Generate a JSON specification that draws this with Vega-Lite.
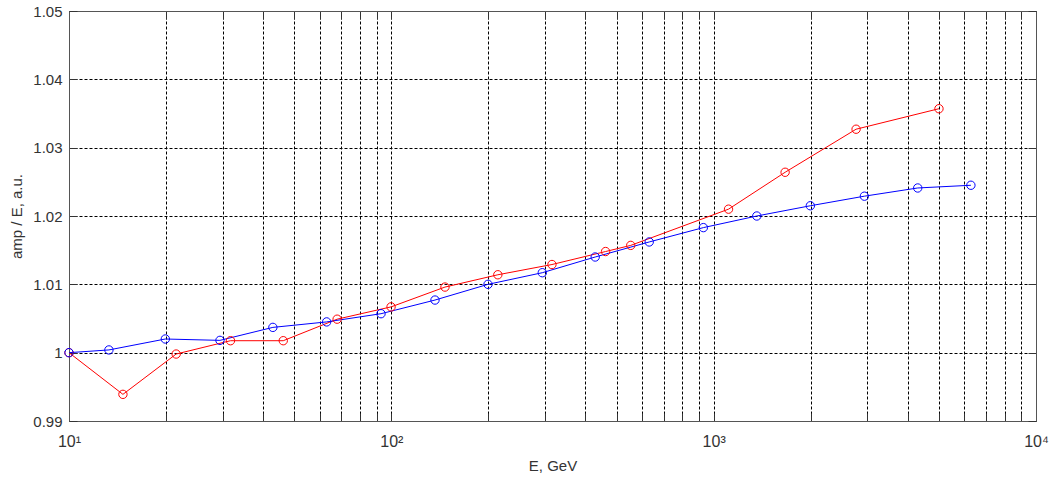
{
  "$schema": "https://vega.github.io/schema/vega-lite/v6.json",
  "width": 967,
  "height": 410,
  "autosize": "none",
  "padding": {"left": 69, "top": 11, "right": 19, "bottom": 60},
  "background": "white",
  "config": {
    "view": {"stroke": "#555555", "strokeWidth": 1},
    "font": "Liberation Sans"
  },
  "data": {
    "values": [
      {"series": "red", "E": 10, "v": 1.0},
      {"series": "red", "E": 14.7, "v": 0.9939},
      {"series": "red", "E": 21.5, "v": 0.9998},
      {"series": "red", "E": 31.7, "v": 1.00175},
      {"series": "red", "E": 46.2, "v": 1.00175},
      {"series": "red", "E": 67.9, "v": 1.0049},
      {"series": "red", "E": 99.8, "v": 1.0067},
      {"series": "red", "E": 146.7, "v": 1.0096},
      {"series": "red", "E": 214, "v": 1.0114},
      {"series": "red", "E": 315, "v": 1.0129},
      {"series": "red", "E": 462, "v": 1.0148},
      {"series": "red", "E": 553, "v": 1.0157},
      {"series": "red", "E": 1112, "v": 1.021},
      {"series": "red", "E": 1666, "v": 1.0264},
      {"series": "red", "E": 2766, "v": 1.0327},
      {"series": "red", "E": 5000, "v": 1.0357},
      {"series": "blue", "E": 10, "v": 1.0},
      {"series": "blue", "E": 13.3, "v": 1.0004},
      {"series": "blue", "E": 19.9, "v": 1.002},
      {"series": "blue", "E": 29.4, "v": 1.0018},
      {"series": "blue", "E": 42.9, "v": 1.0037},
      {"series": "blue", "E": 63.0, "v": 1.0045},
      {"series": "blue", "E": 92.9, "v": 1.0057},
      {"series": "blue", "E": 136.6, "v": 1.0077},
      {"series": "blue", "E": 199.5, "v": 1.01},
      {"series": "blue", "E": 294, "v": 1.0117},
      {"series": "blue", "E": 429, "v": 1.014},
      {"series": "blue", "E": 631, "v": 1.0162},
      {"series": "blue", "E": 929, "v": 1.0183},
      {"series": "blue", "E": 1361, "v": 1.02},
      {"series": "blue", "E": 1995, "v": 1.0215},
      {"series": "blue", "E": 2935, "v": 1.0229},
      {"series": "blue", "E": 4296, "v": 1.0241},
      {"series": "blue", "E": 6281, "v": 1.0245}
    ]
  },
  "resolve": {"axis": {"x": "independent", "y": "independent"}},
  "layer": [
    {
      "mark": {"type": "line", "strokeWidth": 1, "clip": true},
      "encoding": {
        "x": {
          "field": "E", "type": "quantitative",
          "scale": {"type": "log", "domain": [10, 10000], "nice": false},
          "axis": {
            "title": "E, GeV",
            "values": [10,20,30,40,50,60,70,80,90,100,200,300,400,500,600,700,800,900,1000,2000,3000,4000,5000,6000,7000,8000,9000,10000],
            "labelExpr": "datum.value == 10 ? '10¹' : datum.value == 100 ? '10²' : datum.value == 1000 ? '10³' : datum.value == 10000 ? '10⁴' : ''",
            "grid": true, "gridColor": "#000000", "gridDash": [3, 2], "gridOpacity": 1, "gridWidth": 1,
            "tickSize": -8, "tickColor": "#333333",
            "domainColor": "#555555",
            "labelFont": "Liberation Sans", "labelFontSize": 16, "labelColor": "#333333",
            "labelPadding": 20, "labelFlush": false,
            "titleFont": "Liberation Sans", "titleFontSize": 15, "titleFontWeight": "normal", "titleColor": "#333333",
            "titlePadding": 9
          }
        },
        "y": {
          "field": "v", "type": "quantitative",
          "scale": {"domain": [0.99, 1.05], "nice": false, "zero": false},
          "axis": {
            "title": "amp / E, a.u.",
            "values": [0.99, 1.0, 1.01, 1.02, 1.03, 1.04, 1.05],
            "labelExpr": "datum.value == 1 ? '1' : format(datum.value, '.2f')",
            "grid": true, "gridColor": "#000000", "gridDash": [3, 2], "gridOpacity": 1, "gridWidth": 1,
            "tickSize": -8, "tickColor": "#333333",
            "domainColor": "#555555",
            "labelFont": "Liberation Sans", "labelFontSize": 15, "labelColor": "#333333",
            "labelPadding": 15, "labelFlush": false,
            "titleFont": "Liberation Sans", "titleFontSize": 15, "titleFontWeight": "normal", "titleColor": "#333333",
            "titlePadding": 8
          }
        },
        "color": {
          "field": "series", "type": "nominal",
          "scale": {"domain": ["blue", "red"], "range": ["#0000ff", "#ff0000"]},
          "legend": null
        }
      }
    },
    {
      "mark": {"type": "point", "shape": "circle", "filled": false, "size": 70, "strokeWidth": 1, "opacity": 1},
      "encoding": {
        "x": {
          "field": "E", "type": "quantitative",
          "axis": {
            "orient": "top", "title": null, "labels": false, "grid": false,
            "values": [10,20,30,40,50,60,70,80,90,100,200,300,400,500,600,700,800,900,1000,2000,3000,4000,5000,6000,7000,8000,9000,10000],
            "tickSize": -8, "tickColor": "#333333", "domainColor": "#555555"
          }
        },
        "y": {
          "field": "v", "type": "quantitative",
          "axis": {
            "orient": "right", "title": null, "labels": false, "grid": false,
            "values": [0.99, 1.0, 1.01, 1.02, 1.03, 1.04, 1.05],
            "tickSize": -8, "tickColor": "#333333", "domainColor": "#555555"
          }
        },
        "color": {"field": "series", "type": "nominal", "legend": null}
      }
    }
  ]
}
